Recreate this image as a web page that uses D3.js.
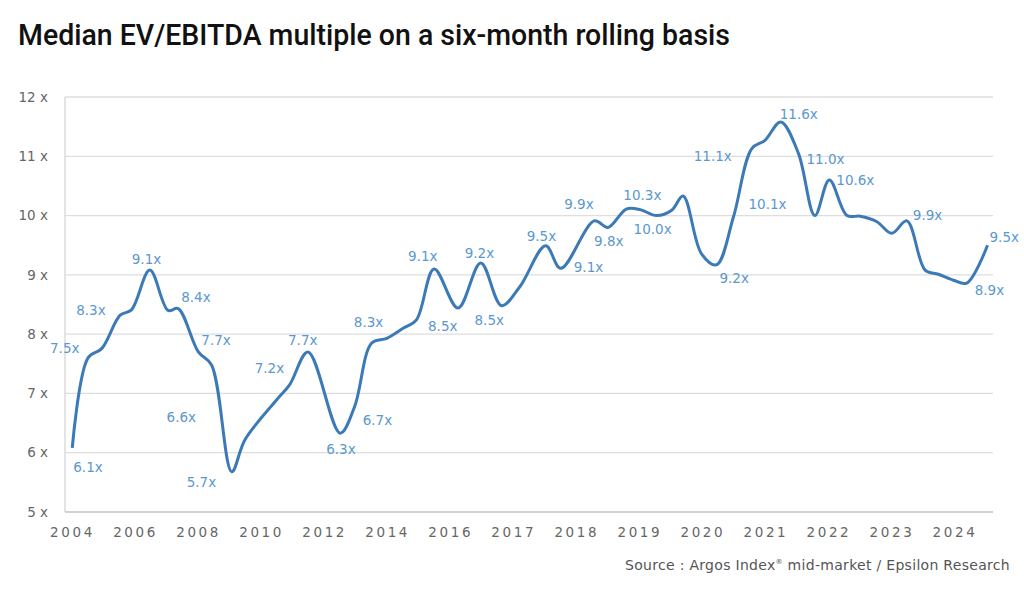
<!DOCTYPE html>
<html>
<head>
<meta charset="utf-8">
<script src="https://cdn.jsdelivr.net/npm/d3@7"></script>
<style>
  body { margin: 0; background: #fff; }
  svg { display: block; }
</style>
</head>
<body>
<svg width="1024" height="597"></svg>
<script>
// x tick labels (evenly spaced on the original chart)
const yearLabels = ["2004", "2006", "2008", "2010", "2012", "2014", "2016", "2017",
                    "2018", "2019", "2020", "2021", "2022", "2023", "2024"];

// position of each reading, in tick-interval units (0 = "2004", 14 = "2024")
const period = [0.02, 0.27, 0.49, 0.78, 0.96, 1.25, 1.54, 1.70, 2.02, 2.23,
                2.55, 2.76, 3.26, 3.47, 3.76, 4.27, 4.50, 4.77, 5.01, 5.27,
                5.48, 5.76, 6.14, 6.50, 6.83, 7.12, 7.53, 7.77, 8.30, 8.52,
                8.81, 9.03, 9.29, 9.53, 9.71, 10.0, 10.24, 10.51, 10.80, 11.01,
                11.26, 11.54, 11.80, 12.03, 12.31, 12.52, 12.78, 13.02, 13.26, 13.55,
                13.76, 14.0, 14.21, 14.54];

// median EV/EBITDA multiple
const multiple = [6.08, 7.6, 7.76, 8.32, 8.41, 9.08, 8.4, 8.43, 7.7, 7.48,
                  5.68, 6.22, 6.89, 7.15, 7.7, 6.33, 6.78, 7.85, 7.93, 8.1,
                  8.24, 9.1, 8.44, 9.2, 8.48, 8.8, 9.49, 9.11, 9.91, 9.80,
                  10.11, 10.1, 10.0, 10.09, 10.33, 9.36, 9.17, 9.98, 11.13, 11.27,
                  11.58, 11.05, 10.0, 10.6, 10.0, 9.99, 9.9, 9.7, 9.91, 9.08,
                  9.01, 8.91, 8.86, 9.5];

// annotated values and the reading each one sits next to
const labelText = ["6.1x", "7.5x", "8.3x", "9.1x", "8.4x", "7.7x", "6.6x", "5.7x",
                   "7.2x", "7.7x", "6.3x", "6.7x", "8.3x", "9.1x", "8.5x", "9.2x",
                   "8.5x", "9.5x", "9.1x", "9.9x", "9.8x", "10.3x", "10.0x", "11.1x",
                   "9.2x", "10.1x", "11.6x", "11.0x", "10.6x", "9.9x", "8.9x", "9.5x"];
const labelPoint = [0, 1, 3, 5, 7, 8, 9, 10, 13, 14, 15, 16, 18, 21, 22, 23,
                    24, 26, 27, 28, 29, 30, 32, 38, 36, 37, 40, 41, 43, 48, 52, 53];

const yTicks = [5, 6, 7, 8, 9, 10, 11, 12];

// label nudges in px (layout only)
const labelNudge = [[1,19],[-38,-10],[-44,-5],[-18,-11],[3,-11],[3,-12],[-45,52],[-45,11],
                    [-35,-16],[-20,-12],[-14,16],[8,14],[-33,-16],[-26,-13],[-30,18],[-16,-10],
                    [-27,15],[-19,-10],[13,-1],[-30,-17],[-14,14],[-3,-14],[-23,14],[-58,8],
                    [3,13],[15,-12],[-1,-8],[8,6],[7,0],[6,-6],[8,7],[2,-8]];

const svg = d3.select("svg");
const plotLeft = 65, plotRight = 993, plotTop = 97, plotBottom = 512;

const x = d3.scaleLinear().domain([0, yearLabels.length - 1]).range([71, 953.5]);
const y = d3.scaleLinear().domain([5, 12]).range([plotBottom, plotTop]);

// title
svg.append("text")
   .attr("x", 18).attr("y", 45)
   .attr("textLength", 712).attr("lengthAdjust", "spacingAndGlyphs")
   .style("font-family", "'Liberation Sans Narrow', Roboto, sans-serif")
   .style("font-size", "30px")
   .style("font-weight", 500)
   .style("fill", "#111")
   .text("Median EV/EBITDA multiple on a six-month rolling basis");

// grid
svg.append("g").selectAll("line")
   .data(yTicks.filter(d => d > 5))
   .enter().append("line")
   .attr("x1", plotLeft).attr("x2", plotRight)
   .attr("y1", d => y(d)).attr("y2", d => y(d))
   .style("stroke", "#dedede").style("stroke-width", 1.3);

svg.append("line")
   .attr("x1", plotLeft).attr("x2", plotLeft).attr("y1", plotTop).attr("y2", plotBottom)
   .style("stroke", "#d6d6d6").style("stroke-width", 1.3);
svg.append("line")
   .attr("x1", plotLeft).attr("x2", plotRight).attr("y1", plotBottom).attr("y2", plotBottom)
   .style("stroke", "#c4c4c4").style("stroke-width", 1.5);

// y tick labels
svg.append("g").selectAll("text")
   .data(yTicks)
   .enter().append("text")
   .attr("x", 48).attr("y", d => y(d))
   .attr("dy", "0.35em")
   .attr("text-anchor", "end")
   .style("font-family", "'DejaVu Sans', sans-serif")
   .style("font-size", "13.5px")
   .style("fill", "#666")
   .text(d => d + " x");

// x tick labels
svg.append("g").selectAll("text")
   .data(yearLabels)
   .enter().append("text")
   .attr("x", (d, i) => x(i) + 1.5).attr("y", 537)
   .attr("text-anchor", "middle")
   .style("font-family", "'DejaVu Sans', sans-serif")
   .style("font-size", "13.5px")
   .style("letter-spacing", "2.6px")
   .style("fill", "#666")
   .text(d => d);

// line
const pts = period.map((p, i) => [p, multiple[i]]);
const line = d3.line()
               .x(d => x(d[0]))
               .y(d => y(d[1]))
               .curve(d3.curveCatmullRom.alpha(0.5));

svg.append("path")
   .datum(pts)
   .attr("d", line)
   .style("fill", "none")
   .style("stroke", "#3b7ab7")
   .style("stroke-width", 3)
   .style("stroke-linejoin", "round");

// value labels
svg.append("g").selectAll("text")
   .data(labelText)
   .enter().append("text")
   .attr("x", (d, i) => x(period[labelPoint[i]]) + labelNudge[i][0])
   .attr("y", (d, i) => y(multiple[labelPoint[i]]) + labelNudge[i][1])
   .attr("dy", "0.35em")
   .style("font-family", "'DejaVu Sans', sans-serif")
   .style("font-size", "13.5px")
   .style("fill", "#5b98cf")
   .text(d => d);

// source
svg.append("text")
   .attr("x", 1010).attr("y", 570)
   .attr("text-anchor", "end")
   .style("font-family", "'DejaVu Sans', sans-serif")
   .style("font-size", "14px")
   .style("letter-spacing", "0.3px")
   .style("fill", "#555")
   .html("Source : Argos Index<tspan dy='-6' style='font-size:7px'>®</tspan><tspan dy='6'> mid-market / Epsilon Research</tspan>");
</script>
</body>
</html>
